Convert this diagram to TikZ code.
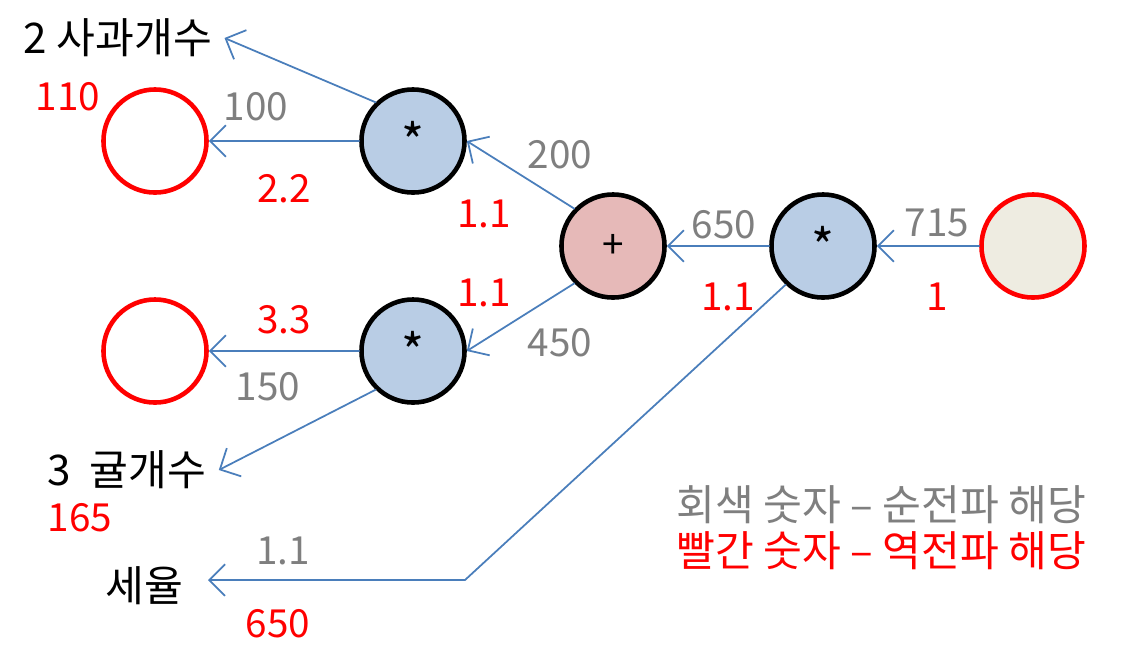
\documentclass[tikz,border=0pt]{standalone}
\usepackage{fontspec}
\setmainfont{Noto Sans CJK KR}
\usetikzlibrary{arrows.meta}
\definecolor{linkblue}{HTML}{4A7EBB}
\definecolor{mulfill}{HTML}{B9CDE5}
\definecolor{addfill}{HTML}{E6B9B8}
\definecolor{outfill}{HTML}{EEECE1}
\definecolor{fwdgray}{HTML}{7F7F7F}
\begin{document}
\begin{tikzpicture}[x=0.01cm, y=-0.01cm, font=\fontsize{11}{13}\selectfont, line join=round, line cap=round,
    >={Straight Barb[length=4.5pt,width=9pt]},
    gate/.style={circle, draw=black, line width=1.3pt, minimum size=1.03cm, inner sep=0pt},
    leaf/.style={circle, draw=red, line width=1.3pt, minimum size=1.03cm, inner sep=0pt},
    link/.style={->, draw=linkblue, line width=0.5pt},
    fwd/.style={text=fwdgray},
    bwd/.style={text=red},
    hangul/.style={font=\fontsize{12}{14}\selectfont}]
    \useasboundingbox (0,0) rectangle (1123,653);
    % 노드
    \node[leaf] (apple) at (155,141) {};
    \node[leaf] (orange) at (155,351) {};
    \node[gate, fill=mulfill, font=\fontsize{14}{16}\selectfont] (mulA) at (413,141) {*};
    \node[gate, fill=mulfill, font=\fontsize{14}{16}\selectfont] (mulB) at (413,351) {*};
    \node[gate, fill=addfill] (add) at (613,246) {+};
    \node[gate, fill=mulfill, font=\fontsize{14}{16}\selectfont] (mulC) at (823,246) {*};
    \node[leaf, fill=outfill] (out) at (1033,246) {};
    \node[hangul] (appleLab) at (118,38) {2 사과개수};
    \node[hangul] (orangeLab) at (127,470) {3~~귤개수};
    \node[hangul] (taxLab) at (144,586) {세율};
    \coordinate (taxEnd) at (208,580);
    \coordinate (bend) at (465,580);
    % 연결
    \draw[link] (mulA.134) -- (appleLab.east);
    \draw[link] (mulA.west) -- (apple.east);
    \draw[link] (add.136) -- (mulA.east);
    \draw[link] (add.224) -- (mulB.east);
    \draw[link] (mulB.west) -- (orange.east);
    \draw[link] (mulB.226) -- (orangeLab.east);
    \draw[link] (mulC.west) -- (add.east);
    \draw[link] (out.west) -- (mulC.east);
    \draw[link] (mulC.226) -- (bend) -- (taxEnd);
    % 숫자
    \node[bwd] (n110) at (68,97) {110};
    \node[fwd] (n100) at (256,107) {100};
    \node[bwd] (n22) at (284,189) {2.2};
    \node[fwd] (n200) at (560,155) {200};
    \node[bwd] (n11a) at (484,214) {1.1};
    \node[bwd] (n11b) at (484,293) {1.1};
    \node[fwd] (n450) at (560,343) {450};
    \node[fwd] (n650) at (724,225) {650};
    \node[bwd] (n11c) at (728,297) {1.1};
    \node[fwd] (n715) at (937,223) {715};
    \node[bwd] (n1) at (937,297) {1};
    \node[bwd] (n33) at (284,320) {3.3};
    \node[fwd] (n150) at (268,387) {150};
    \node[bwd] (n165) at (80,518) {165};
    \node[fwd] (n11d) at (283,551) {1.1};
    \node[bwd] (n650b) at (278,624) {650};
    % 범례
    \node[fwd, hangul, anchor=west] (legFwd) at (664,505) {회색 숫자 – 순전파 해당};
    \node[bwd, hangul, anchor=west] (legBwd) at (664,551) {빨간 숫자 – 역전파 해당};
\end{tikzpicture}
\end{document}
